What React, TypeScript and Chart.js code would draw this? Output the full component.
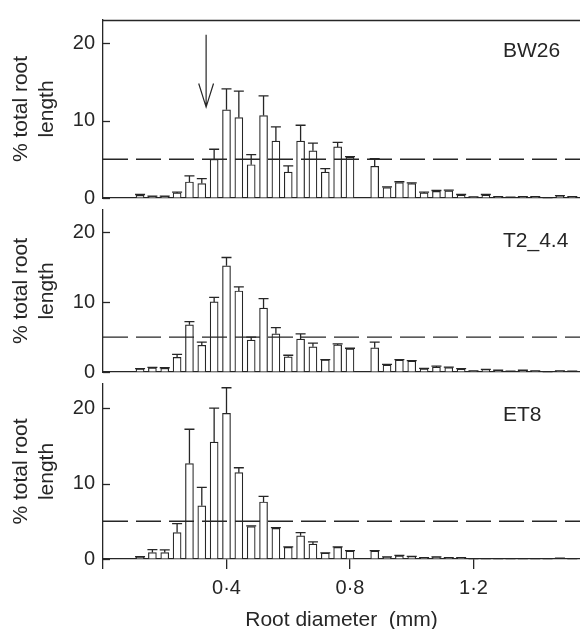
import React, { useEffect, useRef } from 'react';
import { Chart, registerables } from 'chart.js';

Chart.register(...registerables);

// ---------- data ----------
const diameters = [
  0.12, 0.16, 0.2, 0.24, 0.28, 0.32, 0.36, 0.4, 0.44, 0.48, 0.52, 0.56,
  0.6, 0.64, 0.68, 0.72, 0.76, 0.8, 0.84, 0.88, 0.92, 0.96, 1.0, 1.04,
  1.08, 1.12, 1.16, 1.2, 1.24, 1.28, 1.32, 1.36, 1.4, 1.44, 1.48, 1.52,
];

const bw26Mean = [
  0.33, 0.2, 0.2, 0.65, 2.07, 1.87, 5.0, 11.4, 10.4, 4.3, 10.65, 7.35,
  3.35, 7.35, 6.1, 3.35, 6.6, 5.25, null, 4.1, 1.35, 2.0, 1.85, 0.65,
  0.85, 0.93, 0.37, 0.12, 0.37, 0.16, 0.08, 0.16, 0.16, 0.04, 0.24, 0.16,
];
const bw26Se = [
  0.12, 0.05, 0.05, 0.1, 0.78, 0.63, 1.3, 2.7, 3.4, 1.3, 2.55, 1.85,
  0.8, 2.05, 1.0, 0.45, 0.6, 0.1, null, 1.0, 0.1, 0.1, 0.1, 0.1,
  0.12, 0.09, 0.08, 0.02, 0.08, 0.03, 0.02, 0.03, 0.03, 0.01, 0.06, 0.03,
];

const t2Mean = [
  0.44, 0.58, 0.53, 2.09, 6.76, 3.82, 10.04, 15.2, 11.6, 4.58, 9.16, 5.47,
  2.18, 4.7, 3.6, 1.73, 3.88, 3.3, null, 3.47, 1.0, 1.7, 1.55, 0.44,
  0.7, 0.62, 0.4, 0.13, 0.31, 0.22, 0.09, 0.22, 0.13, 0.04, 0.13, 0.09,
];
const t2Se = [
  0.05, 0.09, 0.08, 0.44, 0.45, 0.45, 0.66, 1.2, 0.6, 0.42, 1.34, 0.89,
  0.22, 0.77, 0.53, 0.05, 0.16, 0.1, null, 0.8, 0.1, 0.08, 0.09, 0.09,
  0.14, 0.08, 0.09, 0.02, 0.08, 0.03, 0.02, 0.03, 0.02, 0.01, 0.02, 0.02,
];

const et8Mean = [
  0.26, 0.85, 0.85, 3.5, 12.65, 7.05, 15.5, 19.3, 11.45, 4.3, 7.56, 4.06,
  1.54, 3.08, 1.97, 0.77, 1.54, 1.03, null, 1.03, 0.26, 0.43, 0.3, 0.17,
  0.26, 0.17, 0.17, 0.04, 0.04, 0.04, 0.04, 0.04, 0.04, 0.04, 0.08, 0.04,
];
const et8Se = [
  0.04, 0.39, 0.35, 1.2, 4.55, 2.45, 4.5, 3.4, 0.65, 0.1, 0.74, 0.09,
  0.08, 0.42, 0.29, 0.05, 0.08, 0.07, null, 0.07, 0.03, 0.05, 0.05, 0.02,
  0.03, 0.02, 0.02, 0.01, 0.01, 0.01, 0.01, 0.01, 0.01, 0.01, 0.02, 0.01,
];

const panelNames = ['BW26', 'T2_4.4', 'ET8'];
const xTickValues = [0, 0.4, 0.8, 1.2];
const xTickLabels = ['', '0·4', '0·8', '1·2'];
const yTickValues = [0, 10, 20];
const thresholdValue = 5;
const xTitle = 'Root diameter  (mm)';
const yTitle = ['% total root', 'length'];

// arrow annotation on BW26 panel (data units)
const arrowX = 0.334;
const arrowTopY = 21.1;
const arrowTipY = 11.75;
const arrowWingY = 14.8;
const arrowWingDx = 0.024;

// ---------- styles / layout ----------
const X_MIN = 0;
const X_MAX = 1.545;
const INK = '#262626';
const FONT = '"Liberation Sans", Arial, Helvetica, sans-serif';

Chart.defaults.font.family = FONT;
Chart.defaults.color = INK;

type PanelCfg = {
  name: string;
  means: (number | null)[];
  ses: (number | null)[];
  top: number;
  height: number;
  padBottom: number;
  xHeight: number;
  yMax: number;
  showX: boolean;
  topBorder: boolean;
  arrow: boolean;
};

const panels: PanelCfg[] = [
  { name: panelNames[0], means: bw26Mean, ses: bw26Se, top: 0, height: 218, padBottom: 14, xHeight: 0, yMax: 23, showX: false, topBorder: true, arrow: true },
  { name: panelNames[1], means: t2Mean, ses: t2Se, top: 190, height: 202, padBottom: 14, xHeight: 0, yMax: 23.2, showX: false, topBorder: false, arrow: false },
  { name: panelNames[2], means: et8Mean, ses: et8Se, top: 364, height: 265, padBottom: 0, xHeight: 70, yMax: 23.2, showX: true, topBorder: false, arrow: false },
];

function makeDeco(cfg: PanelCfg) {
  return {
    id: 'panelDeco',
    afterDatasetsDraw(chart: any) {
      const { ctx, chartArea } = chart;
      const x = chart.scales.x;
      const y = chart.scales.y;
      ctx.save();
      ctx.strokeStyle = INK;
      ctx.lineWidth = 1.3;
      // error bars (upper only)
      cfg.means.forEach((m, i) => {
        const se = cfg.ses[i];
        if (m == null || se == null) return;
        const px = x.getPixelForValue(diameters[i]);
        const y0 = y.getPixelForValue(m);
        const y1 = y.getPixelForValue(m + se);
        ctx.beginPath();
        ctx.moveTo(px, y0);
        ctx.lineTo(px, y1);
        ctx.moveTo(px - 5, y1);
        ctx.lineTo(px + 5, y1);
        ctx.stroke();
      });
      // inward y ticks
      yTickValues.forEach((v) => {
        const py = Math.round(y.getPixelForValue(v)) + 0.5;
        ctx.beginPath();
        ctx.moveTo(chartArea.left, py);
        ctx.lineTo(chartArea.left + 7, py);
        ctx.stroke();
      });
      // top frame line
      if (cfg.topBorder) {
        ctx.beginPath();
        ctx.moveTo(chartArea.left, chartArea.top + 0.5);
        ctx.lineTo(chartArea.right, chartArea.top + 0.5);
        ctx.stroke();
      }
      // arrow
      if (cfg.arrow) {
        const ax = x.getPixelForValue(arrowX);
        const aTop = y.getPixelForValue(arrowTopY);
        const aTip = y.getPixelForValue(arrowTipY);
        const aWing = y.getPixelForValue(arrowWingY);
        const wl = x.getPixelForValue(arrowX - arrowWingDx);
        const wr = x.getPixelForValue(arrowX + arrowWingDx);
        ctx.lineWidth = 1.2;
        ctx.beginPath();
        ctx.moveTo(ax, aTop);
        ctx.lineTo(ax, aTip);
        ctx.moveTo(wl, aWing);
        ctx.lineTo(ax, aTip);
        ctx.lineTo(wr, aWing);
        ctx.stroke();
      }
      // panel label
      ctx.fillStyle = INK;
      ctx.font = `21px ${FONT}`;
      ctx.textAlign = 'left';
      ctx.textBaseline = 'alphabetic';
      ctx.fillText(cfg.name, chartArea.left + 400, chartArea.top + 37);
      ctx.restore();
    },
  };
}

function Panel({ cfg }: { cfg: PanelCfg }) {
  const ref = useRef<HTMLCanvasElement>(null);
  useEffect(() => {
    const canvas = ref.current!;
    const chart = new Chart(canvas, {
      type: 'bar',
      data: {
        datasets: [
          {
            type: 'line',
            data: [
              { x: X_MIN, y: thresholdValue },
              { x: X_MAX, y: thresholdValue },
            ],
            borderColor: INK,
            borderWidth: 1.4,
            borderDash: [25, 8],
            pointRadius: 0,
            order: 0,
          } as any,
          {
            type: 'bar',
            data: diameters.map((d, i) => ({ x: d, y: cfg.means[i] })),
            backgroundColor: '#ffffff',
            borderColor: INK,
            borderWidth: 1.2,
            barThickness: 8,
            order: 1,
          } as any,
        ],
      },
      options: {
        animation: false,
        responsive: false,
        events: [],
        layout: { padding: { top: 14, bottom: cfg.padBottom, left: 0, right: 0 } },
        plugins: {
          legend: { display: false },
          tooltip: { enabled: false },
        },
        scales: {
          x: {
            type: 'linear',
            min: X_MIN,
            max: X_MAX,
            offset: false,
            afterBuildTicks: (s: any) => {
              s.ticks = xTickValues.map((v) => ({ value: v }));
            },
            afterFit: (s: any) => {
              s.height = cfg.xHeight;
            },
            ticks: {
              display: cfg.showX,
              autoSkip: false,
              maxRotation: 0,
              padding: 7,
              color: INK,
              font: { size: 20 },
              callback: (_v: any, i: number) => xTickLabels[i],
            },
            grid: {
              offset: false,
              drawOnChartArea: false,
              drawTicks: cfg.showX,
              tickLength: 10,
              color: INK,
              lineWidth: 1.3,
            },
            border: { display: true, color: INK, width: 1.3 },
            title: {
              display: cfg.showX,
              text: xTitle,
              color: INK,
              font: { size: 21, lineHeight: '18px' },
              padding: { top: 0, bottom: 0 },
            },
          },
          y: {
            type: 'linear',
            min: 0,
            max: cfg.yMax,
            afterBuildTicks: (s: any) => {
              s.ticks = yTickValues.map((v) => ({ value: v }));
            },
            afterFit: (s: any) => {
              s.width = 103;
            },
            ticks: { padding: 8, color: INK, font: { size: 20 } },
            grid: { drawOnChartArea: false, drawTicks: false, color: INK },
            border: { display: true, color: INK, width: 1.3 },
            title: {
              display: true,
              text: yTitle,
              color: INK,
              font: { size: 21, lineHeight: '26px' },
              padding: { top: 8, bottom: 0 },
            },
          },
        },
      } as any,
      plugins: [makeDeco(cfg)],
    });
    return () => chart.destroy();
  }, [cfg]);
  return (
    <canvas
      ref={ref}
      width={580}
      height={cfg.height}
      style={{ position: 'absolute', left: 0, top: cfg.top, width: 580, height: cfg.height }}
    />
  );
}

export default function App() {
  return (
    <div
      style={{
        position: 'fixed',
        left: 0,
        top: 0,
        width: 580,
        height: 629,
        overflow: 'hidden',
        background: '#ffffff',
      }}
    >
      {panels.map((p) => (
        <Panel key={p.name} cfg={p} />
      ))}
    </div>
  );
}
